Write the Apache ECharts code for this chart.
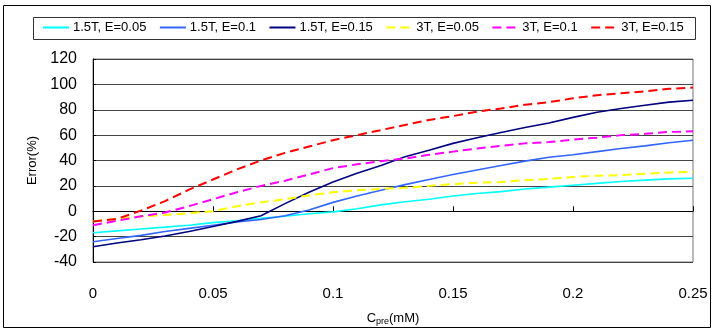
<!DOCTYPE html>
<html>
<head>
    <meta charset="utf-8">
    <title>Error vs Cpre</title>
    <script src="https://cdn.jsdelivr.net/npm/echarts@6/dist/echarts.min.js"></script>
    <style type="text/css">
        * {
            margin: 0;
            padding: 0;
        }

        body {
            background: #fff;
            overflow: hidden;
        }
    </style>
</head>
<body>
<div id="main" style="width: 718px;height: 331px;"></div>
<script type="text/javascript">
    var cpre = [0, 0.01, 0.02, 0.03, 0.04, 0.05, 0.06, 0.07, 0.08, 0.09, 0.10, 0.11, 0.12,
        0.13, 0.14, 0.15, 0.16, 0.17, 0.18, 0.19, 0.20, 0.21, 0.22, 0.23, 0.24, 0.25];
    var names = ['1.5T, E=0.05', '1.5T, E=0.1', '1.5T, E=0.15', '3T, E=0.05', '3T, E=0.1', '3T, E=0.15'];
    var yTicks = [-40, -20, 0, 20, 40, 60, 80, 100, 120];
    var xTicks = [0, 0.05, 0.1, 0.15, 0.2, 0.25];

    var t15e005 = [-17, -15.5, -14, -12.5, -11, -9, -7.5, -5.5, -4, -2, -0.5, 2, 5,
        7.5, 9.5, 12, 14, 15.5, 17.5, 19, 20.5, 22, 23.5, 24.5, 25.5, 26];
    var t15e01 = [-24, -21.5, -19, -16, -13.5, -11, -8.5, -6.5, -3.5, 1, 7, 12, 16.5,
        21, 25, 29, 32.5, 36, 39.5, 42.5, 44.5, 47, 49.5, 51.5, 54, 56];
    var t15e015 = [-28, -25, -22.5, -19.5, -16, -12, -8, -3.5, 6, 15, 23, 30, 36,
        43, 48, 53.5, 58, 62, 66, 69.5, 74, 78, 81, 83.5, 86, 87.5];
    var t3e005 = [-8, -6, -4, -3, -1.5, 0, 4, 7, 9.5, 12.5, 15, 16.5, 17.5,
        18.5, 20, 21.5, 22.5, 23, 24.5, 25.5, 27, 28, 28.5, 29.5, 30.5, 31];
    var t3e01 = [-11, -7.5, -4, -1, 4, 9.5, 15, 20, 24, 29, 34, 37, 39.5,
        41.5, 44.5, 47, 49.5, 51.5, 53.5, 54.5, 56.5, 58, 60, 61, 62.5, 63];
    var t3e015 = [-8, -6, 0.5, 8, 17, 25, 33, 40, 46, 51, 56, 60, 64,
        68, 72, 75, 78.5, 81, 84, 86, 89, 91.5, 93, 94.5, 96.5, 97.5];

    var allData = [t15e005, t15e01, t15e015, t3e005, t3e01, t3e015];
    var colorL = ['#00FFFF', '#3366FF', '#000080', '#FFFF00', '#FF00FF', '#FF0000'];

    function pairs(ys) {
        var out = [];
        for (var i = 0; i < cpre.length; i++) {
            out.push([cpre[i], ys[i]]);
        }
        return out;
    }

    var seriesItem = [];
    for (var i = 0; i < names.length; i++) {
        seriesItem.push({
            name: names[i],
            type: 'line',
            symbol: 'none',
            smooth: false,
            color: colorL[i],
            lineStyle: {
                color: colorL[i],
                width: i < 3 ? 1.6 : 2,
                type: i < 3 ? 'solid' : [9, 5]
            },
            data: pairs(allData[i])
        });
    }

    var myChart = echarts.init(document.getElementById('main'));
    var option = {
        animation: false,
        backgroundColor: '#fff',
        textStyle: {
            fontFamily: 'Liberation Sans, Arial, sans-serif'
        },
        graphic: [{
            type: 'rect',
            shape: {x: 3.5, y: 5.5, width: 707, height: 322},
            style: {fill: 'none', stroke: '#000', lineWidth: 1}
        }, {
            type: 'rect',
            shape: {x: 33.5, y: 17.5, width: 662, height: 22},
            style: {fill: 'none', stroke: '#333', lineWidth: 1}
        }],
        legend: {
            data: names,
            left: 42,
            top: 21,
            padding: 0,
            itemGap: 12.5,
            itemWidth: 26,
            itemHeight: 14,
            selectedMode: false,
            itemStyle: {opacity: 0},
            lineStyle: {width: 2, dashOffset: 0},
            textStyle: {
                fontSize: 13,
                color: '#000',
                padding: [0, 0, 0, -1]
            }
        },
        grid: {
            left: 93,
            right: 25,
            top: 59,
            bottom: 66,
            show: true,
            borderColor: '#777',
            borderWidth: 1
        },
        xAxis: {
            type: 'value',
            min: 0,
            max: 0.25,
            interval: 0.05,
            name: '{a|C}{s|pre}{a|(mM)}',
            nameLocation: 'middle',
            nameGap: 49,
            nameTextStyle: {
                rich: {
                    a: {fontSize: 13, color: '#000', fontFamily: 'Liberation Sans'},
                    s: {fontSize: 9, color: '#000', verticalAlign: 'bottom', padding: [6, 0, 0, 0], fontFamily: 'Liberation Sans'}
                }
            },
            axisLine: {lineStyle: {color: '#000', width: 1}},
            axisTick: {inside: true, length: 5, lineStyle: {color: '#000'}},
            splitLine: {show: false},
            axisLabel: {
                fontSize: 15,
                color: '#000',
                margin: 24,
                formatter: function (v) {
                    for (var k = 0; k < xTicks.length; k++) {
                        if (Math.abs(xTicks[k] - v) < 1e-9) return String(xTicks[k]);
                    }
                    return '';
                }
            }
        },
        yAxis: {
            type: 'value',
            min: yTicks[0],
            max: yTicks[yTicks.length - 1],
            interval: 20,
            name: 'Error(%)',
            nameLocation: 'middle',
            nameGap: 48,
            nameTextStyle: {fontSize: 13, color: '#000'},
            axisLine: {show: true, lineStyle: {color: '#000', width: 1}},
            axisTick: {show: true, inside: true, length: 3, lineStyle: {color: '#000'}},
            splitLine: {show: true, lineStyle: {color: '#444', width: 1}},
            axisLabel: {
                fontSize: 16,
                color: '#000',
                margin: 16,
                padding: [13, 0, 0, 0]
            }
        },
        series: seriesItem
    };
    myChart.setOption(option);
</script>
</body>
</html>
